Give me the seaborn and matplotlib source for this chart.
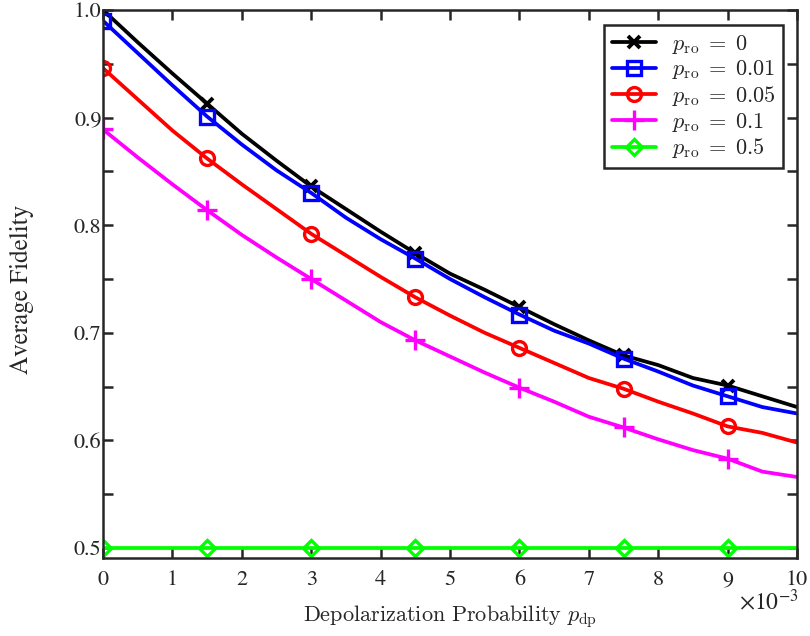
import numpy as np
import pandas as pd
import matplotlib
matplotlib.use("Agg")
import matplotlib.pyplot as plt
import seaborn as sns
from matplotlib.ticker import MultipleLocator, FormatStrFormatter
from matplotlib.font_manager import FontProperties

# ---- data ----
p_dp = [0.0, 0.5, 1.0, 1.5, 2.0, 2.5, 3.0, 3.5, 4.0, 4.5, 5.0,
        5.5, 6.0, 6.5, 7.0, 7.5, 8.0, 8.5, 9.0, 9.5, 10.0]  # x 1e-3
fid_p0 = [1.000, 0.970, 0.941, 0.913, 0.885, 0.860, 0.836, 0.815, 0.794, 0.774, 0.755,
          0.740, 0.724, 0.708, 0.693, 0.679, 0.670, 0.658, 0.651, 0.641, 0.631]
fid_p001 = [0.990, 0.960, 0.930, 0.901, 0.875, 0.851, 0.830, 0.807, 0.787, 0.769, 0.750,
            0.733, 0.717, 0.702, 0.690, 0.676, 0.664, 0.651, 0.641, 0.631, 0.625]
fid_p005 = [0.946, 0.917, 0.888, 0.862, 0.838, 0.815, 0.792, 0.772, 0.752, 0.733, 0.716,
            0.700, 0.686, 0.672, 0.658, 0.648, 0.636, 0.625, 0.613, 0.607, 0.598]
fid_p01 = [0.889, 0.863, 0.838, 0.814, 0.791, 0.770, 0.750, 0.730, 0.710, 0.693, 0.678,
           0.663, 0.649, 0.636, 0.622, 0.612, 0.601, 0.591, 0.583, 0.571, 0.566]
fid_p05 = [0.500] * 21
labels = [r"$p_{\rm ro}\;=\;0$", r"$p_{\rm ro}\;=\;0.01$", r"$p_{\rm ro}\;=\;0.05$",
          r"$p_{\rm ro}\;=\;0.1$", r"$p_{\rm ro}\;=\;0.5$"]
series = [fid_p0, fid_p001, fid_p005, fid_p01, fid_p05]
colors = ["#000000", "#0000ff", "#ff0000", "#ff00ff", "#00ff00"]
markers = ["x", "s", "o", "+", "D"]

sns.set_style("ticks")
plt.rcParams["font.family"] = ["STIXGeneral", "DejaVu Serif"]
plt.rcParams["mathtext.fontset"] = "stix"

TXT = "#262626"
fig = plt.figure(figsize=(8.10, 6.36), dpi=100)
ax = fig.add_axes([103/810, 1-558/636, (797-103)/810, (558-10)/636])

for ys, lab, c, m in zip(series, labels, colors, markers):
    df = pd.DataFrame({"x": p_dp, "y": ys})
    msize, mew = 10, 2.4
    if m == "D":
        msize = 8
    if m == "x":
        msize, mew = 8, 2.8
    if m == "+":
        msize = 14
    sns.lineplot(data=df, x="x", y="y", ax=ax, color=c, linewidth=2.7,
                 marker=m, markevery=3, markersize=msize, markeredgewidth=mew,
                 markerfacecolor="none", markeredgecolor=c, label=lab)

ax.set_xlim(0, 10)
ax.set_ylim(0.4907, 1.0)
ax.xaxis.set_major_locator(MultipleLocator(1))
ax.yaxis.set_major_locator(MultipleLocator(0.1))
ax.yaxis.set_minor_locator(MultipleLocator(0.05))
ax.yaxis.set_major_formatter(FormatStrFormatter("%.1f"))
ax.tick_params(axis="both", which="both", direction="in", top=True, right=True,
               length=7, width=1.8, color=TXT, labelsize=16, labelcolor=TXT)
ax.tick_params(axis="x", pad=9)
ax.tick_params(axis="y", pad=1)
for s in ax.spines.values():
    s.set_visible(True)
    s.set_linewidth(1.8)
    s.set_color(TXT)

ax.set_xlabel(r"$\mathrm{Depolarization\ Probability}\ p_{\rm dp}$",
              fontproperties=FontProperties(size=16, math_fontfamily="cm"), color=TXT)
ax.xaxis.set_label_coords(0.5, -0.083)
ax.set_ylabel("Average Fidelity", fontsize=18, color=TXT)
ax.yaxis.set_label_coords(-0.100, 0.49)
fig.text(0.986, 1-610/636, r"$\times 10^{\mathregular{-3}}$", ha="right", va="baseline",
         fontsize=17, color=TXT)

leg = ax.legend(loc="upper right", prop=FontProperties(size=16, math_fontfamily="cm"),
                frameon=True, fancybox=False, bbox_to_anchor=(783/810, 1-25/636),
                bbox_transform=fig.transFigure, borderaxespad=0.0,
                handlelength=2.0, labelspacing=0.12, borderpad=0.35, handletextpad=0.7)
leg.get_frame().set_edgecolor(TXT)
leg.get_frame().set_linewidth(1.8)
leg.get_frame().set_alpha(1)
for t in leg.get_texts():
    t.set_color(TXT)

fig.savefig("out.png", dpi=100)
